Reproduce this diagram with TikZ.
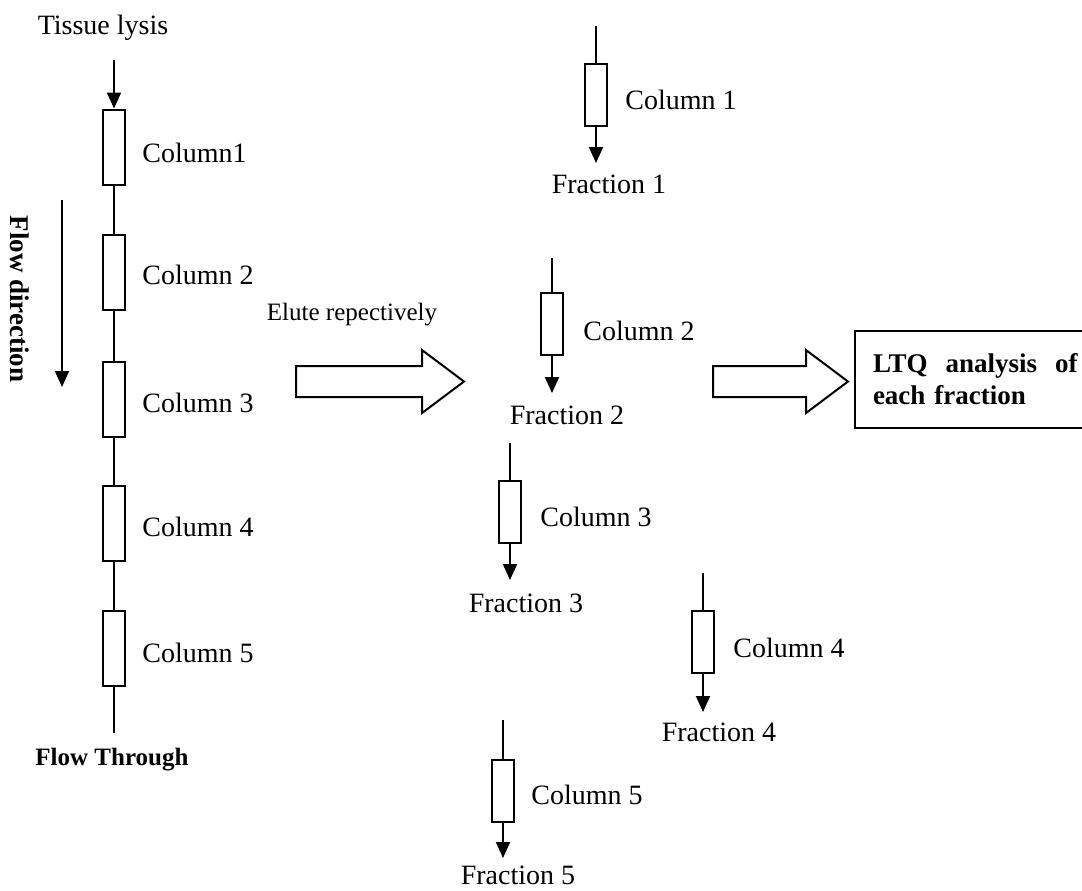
\documentclass[tikz,border=0pt]{standalone}
\usepackage{fontspec}
\setmainfont{Liberation Serif}
\usetikzlibrary{arrows.meta}
\begin{document}
\begin{tikzpicture}[x=0.5pt,y=-0.5pt,
  lcol/.style={draw, line width=1pt, minimum width=11pt, minimum height=37.5pt, inner sep=0pt},
  rcol/.style={draw, line width=1pt, minimum width=11pt, minimum height=31pt, inner sep=0pt},
  txt/.style={font=\fontsize{14}{16}\selectfont, inner sep=0pt},
  lbl/.style={txt, anchor=west},
  btxt/.style={font=\fontsize{13.5}{16}\selectfont\bfseries, inner sep=0pt},
  ln/.style={line width=1pt},
  arr/.style={line width=1pt, -{Triangle[width=7pt,length=8pt]}},
  blk/.style={line width=1pt, line join=miter}]
\clip (0,0) rectangle (1082,890);
\fill[white] (0,0) rectangle (1082,890);

% left stack
\node[txt] (tissue) at (103,28) {Tissue lysis};
\coordinate (ltop) at (114,60);
\node[lcol] (c1) at (114,147) {};
\node[lcol] (c2) at (114,272) {};
\node[lcol] (c3) at (114,399) {};
\node[lcol] (c4) at (114,523) {};
\node[lcol] (c5) at (114,648) {};
\coordinate (lbot) at (114,733);
\draw[arr] (ltop) -- (c1.north);
\draw[ln] (c1.south) -- (c2.north);
\draw[ln] (c2.south) -- (c3.north);
\draw[ln] (c3.south) -- (c4.north);
\draw[ln] (c4.south) -- (c5.north);
\draw[ln] (c5.south) -- (lbot);
\node[lbl] (l1) at (142,153) {Column1};
\node[lbl] (l2) at (142,275) {Column 2};
\node[lbl] (l3) at (142,403) {Column 3};
\node[lbl] (l4) at (142,527) {Column 4};
\node[lbl] (l5) at (142,653) {Column 5};
\node[btxt, font=\fontsize{12.5}{15}\selectfont\bfseries] (ft) at (112,760) {Flow Through};

% flow direction
\node[btxt, rotate=-90] (fdir) at (20,299) {Flow direction};
\coordinate (fd1) at (62,200);
\coordinate (fd2) at (62,387);
\draw[arr] (fd1) -- (fd2);

% elute arrow
\node[txt, font=\fontsize{12.5}{15}\selectfont] (elute) at (352,315) {Elute repectively};
\draw[blk] (296,366) -- (422,366) -- (422,350) -- (464,381.5) -- (422,413) -- (422,397) -- (296,397) -- cycle;

% right columns
\coordinate (t1) at (596,26);   \node[rcol] (r1) at (596,94.5) {}; \coordinate (f1) at (596,163);
\coordinate (t2) at (552,258);  \node[rcol] (r2) at (552,324) {};  \coordinate (f2) at (552,393);
\coordinate (t3) at (510,443);  \node[rcol] (r3) at (510,512) {};  \coordinate (f3) at (510,580);
\coordinate (t4) at (703,573);  \node[rcol] (r4) at (703,642) {};  \coordinate (f4) at (703,712);
\coordinate (t5) at (503,720);  \node[rcol] (r5) at (503,791) {};  \coordinate (f5) at (503,858);
\foreach \i in {1,...,5}{
  \draw[ln] (t\i) -- (r\i.north);
  \draw[arr] (r\i.south) -- (f\i);
}
\node[lbl] (rl1) at (625,100) {Column 1};
\node[lbl] (rl2) at (583,331) {Column 2};
\node[lbl] (rl3) at (540,517) {Column 3};
\node[lbl] (rl4) at (733,648) {Column 4};
\node[lbl] (rl5) at (531,795) {Column 5};
\node[txt] (fr1) at (609,184) {Fraction 1};
\node[txt] (fr2) at (567,415) {Fraction 2};
\node[txt] (fr3) at (526,603) {Fraction 3};
\node[txt] (fr4) at (719,732) {Fraction 4};
\node[txt] (fr5) at (518,875) {Fraction 5};

% LTQ arrow and box
\draw[blk] (713,366) -- (806,366) -- (806,350) -- (848,381.5) -- (806,413) -- (806,397) -- (713,397) -- cycle;
\node[draw, line width=1pt, anchor=north west, minimum height=48.5pt, text width=105pt,
      inner xsep=9pt, inner ysep=0pt, align=left,
      font=\fontsize{13.5}{16}\selectfont\bfseries] (ltq) at (854,330)
      {LTQ\ \ analysis\ \ of\\each fraction};
\end{tikzpicture}
\end{document}
